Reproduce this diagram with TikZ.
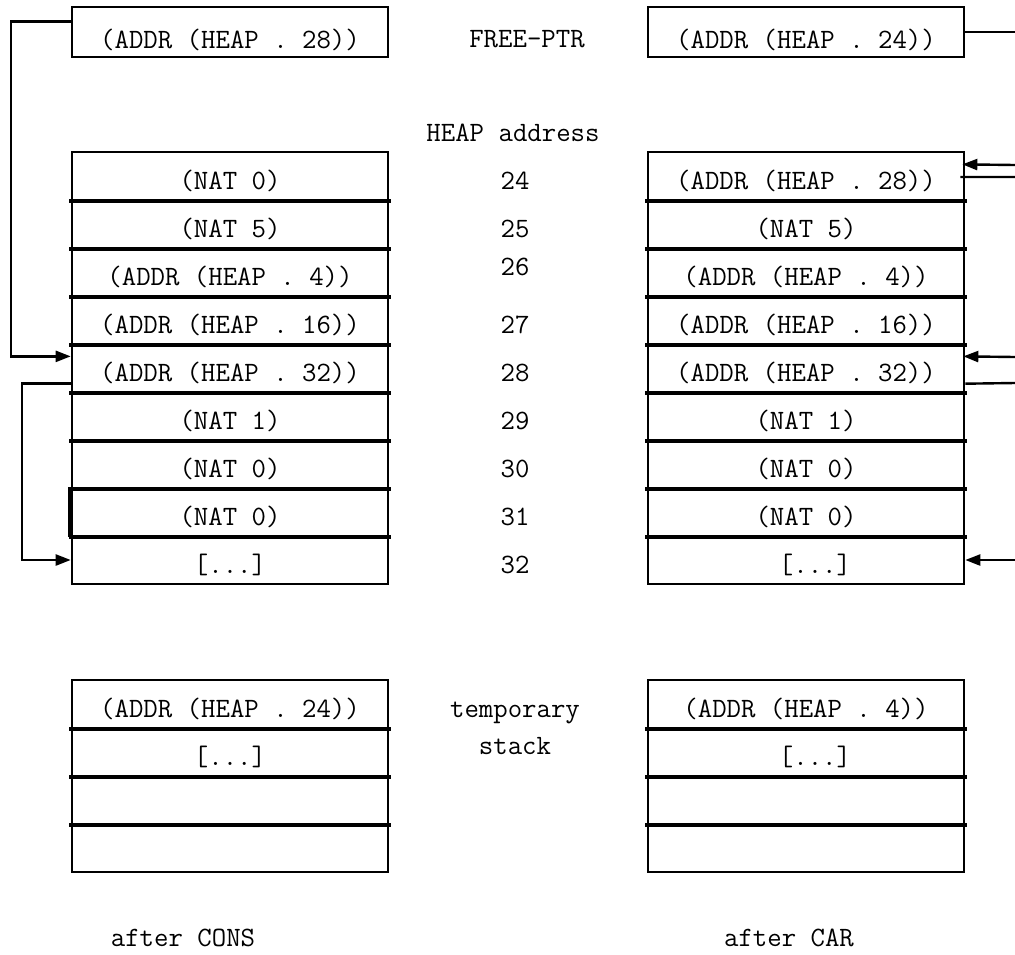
\documentclass[tikz,border=0pt]{standalone}
\usepackage{fontspec}
\usetikzlibrary{arrows.meta,calc}
\begin{document}
\frenchspacing
\begin{tikzpicture}[x=1pt,y=-1pt,
  ttf/.style={font=\ttfamily\fontsize{28}{34}\selectfont\addfontfeature{FakeBold=0.6}},
  cell/.style={ttf,draw,line width=2.6pt,minimum width=316pt,minimum height=48pt,inner sep=0pt,text height=27pt,text depth=0pt},
  topbox/.style={cell,minimum height=50pt,text height=32pt},
  sep/.style={line width=4pt,line cap=rect},
  lbl/.style={ttf,anchor=base,inner sep=0pt},
  conn/.style={line width=2.4pt},
  arr/.style={conn,-{Triangle[length=15pt,width=11pt]}}
]
\useasboundingbox (0,0) rectangle (1015,954);

% top pointer boxes
\node[topbox] (ltop) at (230,32) {(ADDR (HEAP . 28))};
\node[topbox] (rtop) at (806,32) {(ADDR (HEAP . 24))};
\node[lbl] (fp) at (527,47) {FREE-PTR};
\node[lbl] (ha) at (513,141.7) {HEAP address};

% left heap column
\node[cell] (l0) at (230,176) {(NAT 0)};
\node[cell] (l1) at (230,224) {(NAT 5)};
\node[cell] (l2) at (230,272) {(ADDR (HEAP . 4))};
\node[cell] (l3) at (230,320) {(ADDR (HEAP . 16))};
\node[cell] (l4) at (230,368) {(ADDR (HEAP . 32))};
\node[cell] (l5) at (230,416) {(NAT 1)};
\node[cell] (l6) at (230,464) {(NAT 0)};
\node[cell] (l7) at (230,512) {(NAT 0)};
\node[cell] (l8) at (230,560) {[...]};

% right heap column
\node[cell] (r0) at (806,176) {(ADDR (HEAP . 28))};
\node[cell] (r1) at (806,224) {(NAT 5)};
\node[cell] (r2) at (806,272) {(ADDR (HEAP . 4))};
\node[cell] (r3) at (806,320) {(ADDR (HEAP . 16))};
\node[cell] (r4) at (806,368) {(ADDR (HEAP . 32))};
\node[cell] (r5) at (806,416) {(NAT 1)};
\node[cell] (r6) at (806,464) {(NAT 0)};
\node[cell] (r7) at (806,512) {(NAT 0)};
\node[cell] (r8) at (806,560) {\hspace*{18pt}[...]};

\foreach \i in {0,...,7}{
  \draw[sep] (l\i.south west) -- (l\i.south east);
  \draw[sep] (r\i.south west) -- (r\i.south east);
}
\draw[line width=4.5pt] ([xshift=-0.5pt]l7.north west) -- ([xshift=-0.5pt]l7.south west);

% addresses
\node[lbl] (a24) at (515,189) {24};
\node[lbl] (a25) at (515,237) {25};
\node[lbl] (a26) at (515,275) {26};
\node[lbl] (a27) at (515,333) {27};
\node[lbl] (a28) at (515,381) {28};
\node[lbl] (a29) at (515,429) {29};
\node[lbl] (a30) at (515,477) {30};
\node[lbl] (a31) at (515,525) {31};
\node[lbl] (a32) at (515,573) {32};

% temporary stacks
\node[cell] (ls0) at (230,704) {(ADDR (HEAP . 24))};
\node[cell] (ls1) at (230,752) {[...]};
\node[cell] (ls2) at (230,800) {};
\node[cell] (ls3) at (230,848) {};
\node[cell] (rs0) at (806,704) {(ADDR (HEAP . 4))};
\node[cell] (rs1) at (806,752) {\hspace*{18pt}[...]};
\node[cell] (rs2) at (806,800) {};
\node[cell] (rs3) at (806,848) {};
\foreach \i in {0,1,2}{
  \draw[sep] (ls\i.south west) -- (ls\i.south east);
  \draw[sep] (rs\i.south west) -- (rs\i.south east);
}
\node[lbl] (tmp) at (515,717) {temporary};
\node[lbl] (stk) at (515,754) {stack};
\node[lbl] (acons) at (183,946) {after CONS};
\node[lbl] (acar) at (789,946) {after CAR};

% left connectors
\draw[arr] ($(ltop.north west)!0.3!(ltop.south west)$) -- ++(-60,0)
  |- ($(l4.north west)!0.27!(l4.south west)$);
\draw[arr] ($(l4.north west)!0.81!(l4.south west)$) -- ++(-49,0) |- (l8.west);

% right connectors (free ends at picture edge)
\coordinate (rf0) at (1015,32);
\coordinate (rf1) at (1015,165);
\coordinate (rf2) at (1015,177);
\coordinate (rf3) at (1015,357);
\coordinate (rf4) at (1015,383);
\coordinate (rf5) at (1015,560);
\draw[conn] (rtop.east) -- (rf0);
\draw[arr] (rf1) -- ([xshift=-3pt]$(r0.north east)!0.27!(r0.south east)$);
\draw[conn] ([xshift=-5pt]$(r0.north east)!0.52!(r0.south east)$) -- (rf2);
\draw[arr] (rf3) -- ([xshift=-2pt]$(r4.north east)!0.27!(r4.south east)$);
\draw[conn] ($(r4.north east)!0.81!(r4.south east)$) -- (rf4);
\draw[arr] (rf5) -- (r8.east);
\end{tikzpicture}
\end{document}
